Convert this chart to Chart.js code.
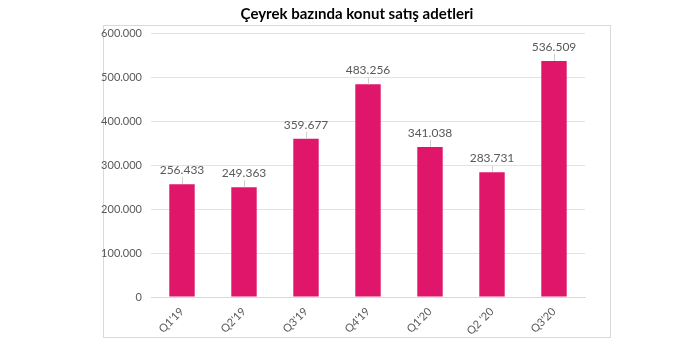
<!DOCTYPE html>
<html lang="tr">
<head>
    <meta charset="UTF-8">
    <title>Çeyrek bazında konut satış adetleri</title>
    <script src="https://cdn.jsdelivr.net/npm/chart.js"></script>
    <style>
        body { margin: 0; background: #fff; }
        .wrap { position: relative; width: 700px; height: 353px; }
    </style>
</head>
<body>
    <div class="wrap">
        <canvas id="salesChart" width="700" height="353"></canvas>
    </div>
    <script>
        const quarters = ["Q1'19", "Q2'19", "Q3'19", "Q4'19", "Q1'20", "Q2 '20", "Q3'20"];
        const sales = [256433, 249363, 359677, 483256, 341038, 283731, 536509];
        const yTicks = [0, 100000, 200000, 300000, 400000, 500000, 600000];
        const chartTitle = 'Çeyrek bazında konut satış adetleri';

        const fmt = v => v.toLocaleString('de-DE');
        const grey = '#595959';
        const font = 'Lato, "Open Sans", sans-serif';

        // frame + title, like the excel chart area
        const framePlugin = {
            id: 'frame',
            beforeDraw(chart) {
                const ctx = chart.ctx;
                ctx.save();
                ctx.strokeStyle = '#d9d9d9';
                ctx.lineWidth = 1;
                ctx.strokeRect(103.5, 25.5, 507, 312);
                ctx.font = 'bold 15px ' + font;
                ctx.fillStyle = '#000';
                ctx.textAlign = 'center';
                ctx.textBaseline = 'middle';
                ctx.fillText(chartTitle, 357, 14);
                ctx.restore();
            }
        };

        // value labels with small leader lines
        const labelPlugin = {
            id: 'valueLabels',
            afterDatasetsDraw(chart) {
                const ctx = chart.ctx;
                const meta = chart.getDatasetMeta(0);
                ctx.save();
                ctx.font = '12px ' + font;
                ctx.fillStyle = grey;
                ctx.textAlign = 'center';
                ctx.textBaseline = 'middle';
                meta.data.forEach((bar, i) => {
                    ctx.fillText(fmt(sales[i]), bar.x, bar.y - 14);
                    ctx.strokeStyle = '#d0d0d0';
                    ctx.beginPath();
                    ctx.moveTo(bar.x + 0.5, bar.y - 7);
                    ctx.lineTo(bar.x + 0.5, bar.y);
                    ctx.stroke();
                });
                ctx.restore();
            }
        };

        new Chart(document.getElementById('salesChart'), {
            type: 'bar',
            data: {
                labels: quarters,
                datasets: [{
                    data: sales,
                    backgroundColor: '#E0166B',
                    categoryPercentage: 1,
                    barPercentage: 0.41
                }]
            },
            options: {
                responsive: false,
                animation: false,
                layout: { padding: { left: 0, right: 115, top: 33, bottom: 0 } },
                plugins: {
                    legend: { display: false },
                    tooltip: { enabled: false },
                    title: { display: false }
                },
                scales: {
                    y: {
                        min: 0,
                        max: 600000,
                        afterBuildTicks(scale) {
                            scale.ticks = yTicks.map(v => ({ value: v }));
                        },
                        afterFit(scale) { scale.width = 151; },
                        ticks: {
                            color: grey,
                            padding: 9,
                            font: { family: font, size: 11 },
                            callback: v => fmt(v)
                        },
                        grid: { color: '#e3e3e3', drawTicks: false },
                        border: { display: false }
                    },
                    x: {
                        afterFit(scale) { scale.height = 56; },
                        ticks: {
                            color: grey,
                            maxRotation: 45,
                            minRotation: 45,
                            padding: 0,
                            font: { family: font, size: 11 }
                        },
                        grid: { display: false },
                        border: { color: '#d9d9d9' }
                    }
                }
            },
            plugins: [framePlugin, labelPlugin]
        });
    </script>
</body>
</html>
